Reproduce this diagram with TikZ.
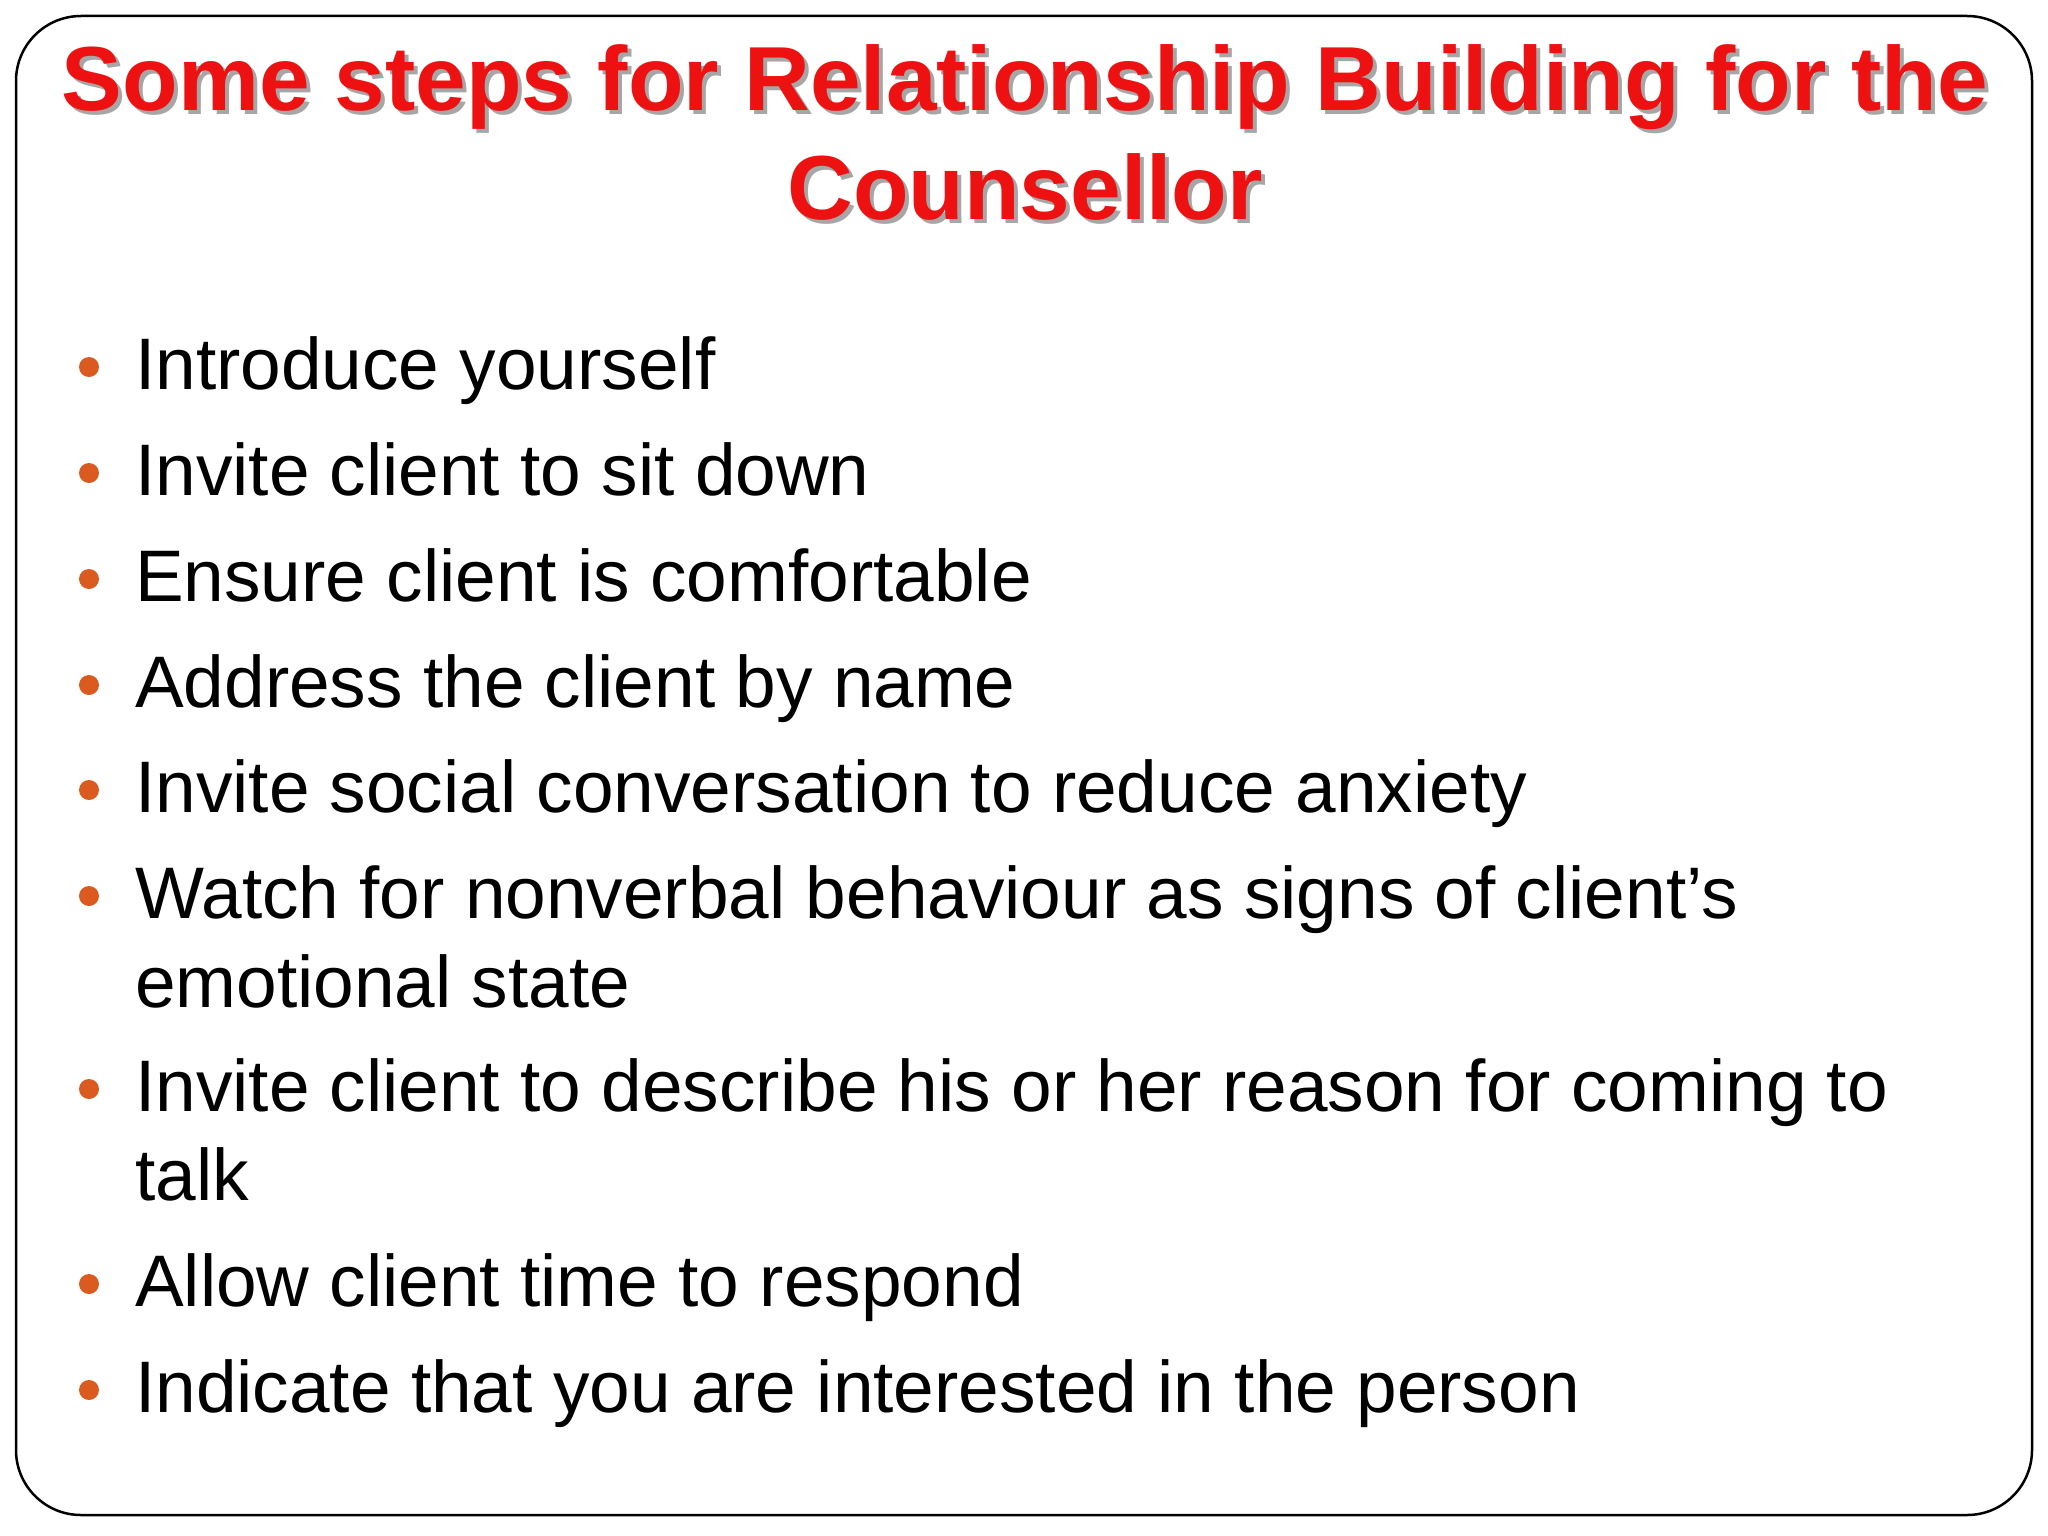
\documentclass[tikz,border=0pt]{standalone}
\usepackage{fontspec}
\setmainfont{Liberation Sans}
\definecolor{titlered}{HTML}{EE1111}
\definecolor{bulletc}{HTML}{DB5A20}
\tikzset{
  item/.style={anchor=base west,inner sep=0pt,font=\fontsize{73}{88}\selectfont},
  ttl/.style={anchor=base,inner sep=0pt,font=\fontsize{91}{108}\selectfont\bfseries,text=titlered},
  shd/.style={anchor=base,inner sep=0pt,font=\fontsize{91}{108}\selectfont\bfseries,text=black!35},
  dot/.style={circle,fill=bulletc,inner sep=0pt,minimum size=20pt}
}
\begin{document}
\begin{tikzpicture}[x=1pt,y=-1pt]
\useasboundingbox (0,0) rectangle (2048,1536);
\draw[line width=2.5pt,rounded corners=65pt] (16,16) rectangle (2032,1515);
\node[shd] (s1) at (1029,115) {Some steps for Relationship Building for the};
\node[shd] (s2) at (1029,223) {Counsellor};
\node[ttl] (t1) at (1025,111) {Some steps for Relationship Building for the};
\node[ttl] (t2) at (1025,219) {Counsellor};
\foreach \y/\t [count=\i] in {389/Introduce yourself,495/Invite client to sit down,601/Ensure client is comfortable,707/Address the client by name,812/Invite social conversation to reduce anxiety,918/Watch for nonverbal behaviour as signs of client’s,1111/Invite client to describe his or her reason for coming to,1306/Allow client time to respond,1412/Indicate that you are interested in the person}{
  \node[dot] (b\i) at (89,\y-22) {};
  \node[item] (i\i) at (135,\y) {\t};
}
\node[item] (c6) at (135,1007) {emotional state};
\node[item] (c7) at (135,1200) {talk};
\end{tikzpicture}
\end{document}
